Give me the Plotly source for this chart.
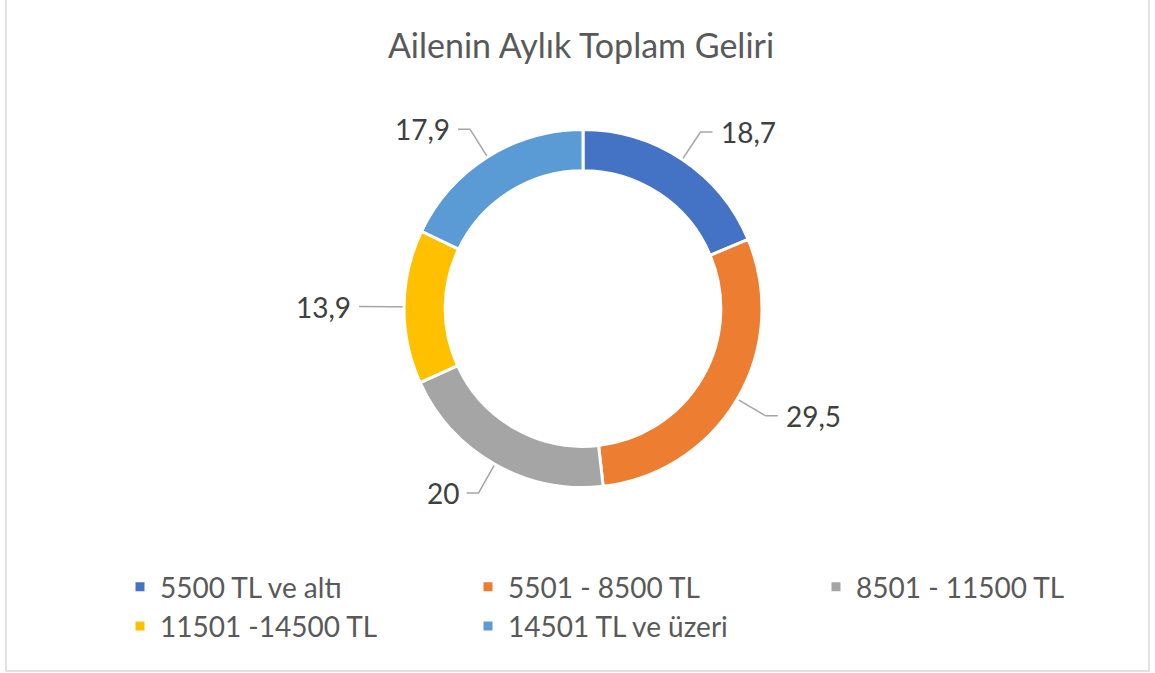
import numpy as np
import plotly.graph_objects as go

# data
labels = ["5500 TL ve altı", "5501 - 8500 TL", "8501 - 11500 TL", "11501 -14500 TL", "14501 TL ve üzeri"]
values = [18.7, 29.5, 20, 13.9, 17.9]
value_text = ["18,7", "29,5", "20", "13,9", "17,9"]
colors = ["#4472C4", "#ED7D31", "#A5A5A5", "#FFC000", "#5B9BD5"]

W, H = 1155, 673
cx, cy, R = 583, 308.5, 179
hole = 0.77
font = "Lato"

fig = go.Figure()
fig.add_trace(go.Pie(
    labels=labels, values=values, sort=False, direction="clockwise", rotation=0,
    hole=hole, textinfo="none", hoverinfo="label+value",
    marker=dict(colors=colors, line=dict(color="white", width=3)),
    domain=dict(x=[(cx - R) / W, (cx + R) / W], y=[1 - (cy + R) / H, 1 - (cy - R) / H]),
))

# leader lines + value labels, placed from each slice's middle angle
vals = np.array(values, dtype=float)
mid = (np.cumsum(vals) - vals / 2) / vals.sum() * 2 * np.pi
r_mid = R * (1 + hole) / 2
r_elbow = 212
annotations = []
for a, txt in zip(mid, value_text):
    sx, sy = np.sin(a), -np.cos(a)
    side = 1 if sx >= 0 else -1
    x0, y0 = cx + r_mid * sx, cy + r_mid * sy
    x1, y1 = cx + r_elbow * sx, cy + r_elbow * sy
    x2 = x1 + 12 * side
    fig.add_trace(go.Scatter(x=[x0, x1, x2], y=[y0, y1, y1], mode="lines",
                             line=dict(color="#A6A6A6", width=1.5),
                             showlegend=False, hoverinfo="skip"))
    annotations.append(dict(x=x2 + 6 * side, y=y1, xref="x", yref="y", text=txt, showarrow=False,
                            xanchor="left" if side > 0 else "right", yanchor="middle",
                            font=dict(family=font, size=28, color="#404040")))

fig.update_xaxes(range=[0, W], visible=False, fixedrange=True)
fig.update_yaxes(range=[H, 0], visible=False, fixedrange=True)

fig.update_layout(
    width=W, height=H, margin=dict(l=0, r=0, t=0, b=0, autoexpand=False),
    paper_bgcolor="white", plot_bgcolor="rgba(0,0,0,0)",
    title=dict(text="Ailenin Aylık Toplam Geliri", x=581 / W, xanchor="center", y=1 - 46 / H, yanchor="middle",
               font=dict(family=font, size=34, color="#595959")),
    legend=dict(orientation="h", x=120 / W, xanchor="left", y=1 - 562 / H, yanchor="top",
                entrywidth=303, entrywidthmode="pixels", traceorder="normal", bgcolor="rgba(0,0,0,0)",
                font=dict(family=font, size=28, color="#595959")),
    annotations=annotations,
    shapes=[dict(type="rect", xref="paper", yref="paper", x0=6 / W, x1=1149 / W, y0=1 - 671 / H, y1=1.01,
                 line=dict(color="#D9D9D9", width=1.5), fillcolor="rgba(0,0,0,0)", layer="below")],
)

fig.write_html("out.html", config={"displayModeBar": False},
               post_script="document.body.style.margin='0';")
